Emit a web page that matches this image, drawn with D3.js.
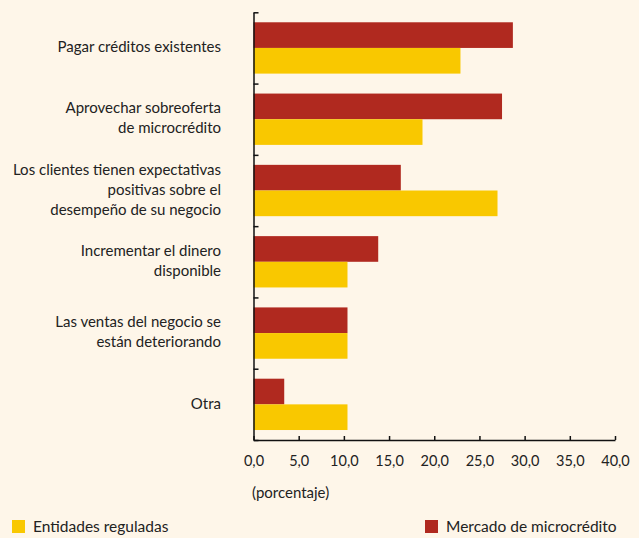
<!DOCTYPE html>
<html>
<head>
<meta charset="utf-8">
<style>
  body { margin: 0; background: #fef6e9; }
  svg { display: block; font-family: Lato, "Open Sans", sans-serif; }
  .axis path, .axis line { stroke: #111; }
</style>
</head>
<body>
<div id="chart"></div>
<script src="https://cdn.jsdelivr.net/npm/d3@7"></script>
<script>
// categories (line breaks as in the original)
var categories = [
  "Pagar créditos existentes",
  "Aprovechar sobreoferta\nde microcrédito",
  "Los clientes tienen expectativas\npositivas sobre el\ndesempeño de su negocio",
  "Incrementar el dinero\ndisponible",
  "Las ventas del negocio se\nestán deteriorando",
  "Otra"
];
var mercado = [28.7, 27.5, 16.3, 13.8, 10.4, 3.4];   // Mercado de microcrédito
var entidades = [22.9, 18.7, 27.0, 10.4, 10.4, 10.4]; // Entidades reguladas
var xTicks = [0, 5, 10, 15, 20, 25, 30, 35, 40];

var width = 639, height = 538;
var red = "#b0291f", yellow = "#f9c800";

var svg = d3.select("#chart").append("svg")
    .attr("width", width)
    .attr("height", height);

svg.append("rect").attr("width", width).attr("height", height).attr("fill", "#fef6e9");

var x = d3.scaleLinear().domain([0, 40]).range([253.5, 615]);
var y = d3.scaleBand().domain(d3.range(categories.length))
    .range([12.3, 440]).paddingInner(0.28).paddingOuter(0.14);
var sub = d3.scaleBand().domain(["m", "e"]).range([0, y.bandwidth()]);

var rows = categories.map(function(c, i) {
  return { i: i, label: c, m: mercado[i], e: entidades[i] };
});

// bars
var g = svg.selectAll(".grp").data(rows).enter().append("g")
    .attr("transform", function(d) { return "translate(0," + y(d.i) + ")"; });

g.append("rect")
    .attr("x", x(0))
    .attr("y", sub("m"))
    .attr("width", function(d) { return x(d.m) - x(0); })
    .attr("height", sub.bandwidth())
    .attr("fill", red);

g.append("rect")
    .attr("x", x(0))
    .attr("y", sub("e"))
    .attr("width", function(d) { return x(d.e) - x(0); })
    .attr("height", sub.bandwidth())
    .attr("fill", yellow);

// category labels
g.append("text")
    .attr("text-anchor", "end")
    .attr("font-size", 15)
    .attr("fill", "#222")
    .each(function(d) {
      var lines = d.label.split("\n");
      var t = d3.select(this);
      var off = -(lines.length - 1) * 10;
      lines.forEach(function(l, k) {
        t.append("tspan")
          .attr("x", 221)
          .attr("y", y.bandwidth() / 2 + off + k * 20 - 1)
          .attr("dy", "0.35em")
          .text(l);
      });
    });

// y axis with ticks at band boundaries
var yb = d3.scaleLinear().domain([0, categories.length]).range([12.3, 440]);
svg.append("g").attr("class", "axis")
    .attr("transform", "translate(" + x(0) + ",0)")
    .call(d3.axisRight(yb).ticks(6).tickSize(5).tickSizeOuter(0).tickFormat(""))
    .selectAll("path, line").attr("stroke-width", 1.5);

// x axis
var xa = svg.append("g").attr("class", "axis")
    .attr("transform", "translate(0,440)")
    .call(d3.axisBottom(x).tickValues(xTicks).tickSize(-4).tickSizeOuter(0).tickPadding(16)
      .tickFormat(function(d) { return d.toFixed(1).replace(".", ","); }));
xa.selectAll("path, line").attr("stroke-width", 1.5);
xa.selectAll("text").attr("font-size", 14.5).attr("fill", "#222")
    .attr("font-family", "Lato, 'Open Sans', sans-serif");

svg.append("text")
    .attr("x", 252).attr("y", 498)
    .attr("font-size", 15).attr("fill", "#222")
    .text("(porcentaje)");

// legend
var legend = [
  { name: "Entidades reguladas", color: yellow, x: 12 },
  { name: "Mercado de microcrédito", color: red, x: 425 }
];
var lg = svg.selectAll(".lg").data(legend).enter().append("g")
    .attr("transform", function(d) { return "translate(" + d.x + ",520)"; });
lg.append("rect").attr("width", 13).attr("height", 13).attr("fill", function(d) { return d.color; });
lg.append("text").attr("x", 21).attr("y", 12)
    .attr("font-size", 15.5).attr("fill", "#222")
    .text(function(d) { return d.name; });
</script>
</body>
</html>
